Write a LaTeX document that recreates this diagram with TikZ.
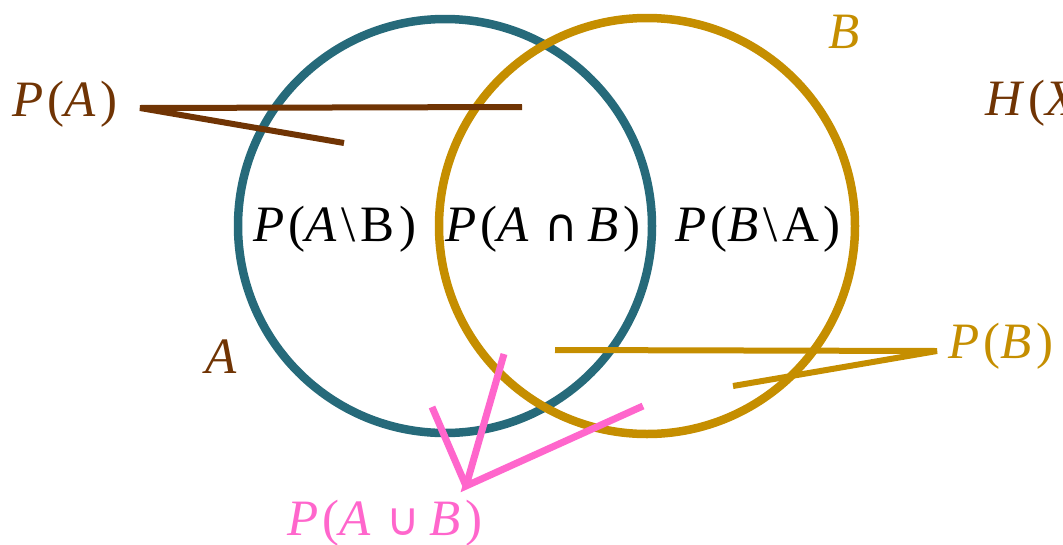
\documentclass[tikz,border=0pt]{standalone}
\usepackage{fontspec}
\setmainfont[LetterSpace=9]{Liberation Serif}
\newfontfamily\symfont{DejaVu Sans}
\definecolor{teal1}{RGB}{38,106,122}
\definecolor{gold1}{RGB}{197,142,0}
\definecolor{brown1}{RGB}{112,52,4}
\definecolor{pink1}{RGB}{255,102,204}
\begin{document}
\begin{tikzpicture}[x=1pt,y=-1pt,
  lbl/.style={anchor=base west,inner sep=0pt,font=\fontsize{51}{56}\selectfont},
  ring/.style={line width=8.5pt},
  ptr/.style={line width=6pt}]
\useasboundingbox (0,0) rectangle (1063,544);
\clip (0,0) rectangle (1063,544);
\draw[ring,teal1] (445,226) circle[radius=207];
\draw[ring,gold1] (647,226) circle[radius=208];
% labels
\node[lbl,text=brown1] (pa) at (12,116) {\textit{P}(\textit{A})};
\node[lbl] (amb) at (253,241) {\textit{P}(\textit{A}\textbackslash B)};
\node[lbl] (anb) at (445,241) {\textit{P}(\textit{A}\hspace{0.2em}{\symfont\fontsize{46}{50}\selectfont ∩}\hspace{0.2em}\textit{B})};
\node[lbl] (bma) at (675,241) {\textit{P}(\textit{B}\textbackslash A)};
\node[lbl,text=brown1] (la) at (205,373) {\textit{A}};
\node[lbl,text=gold1] (lb) at (828,48) {\textit{B}};
\node[lbl,text=brown1] (hx) at (985,115) {\textit{H}(\textit{X})};
\node[lbl,text=gold1] (pb) at (948,358) {\textit{P}(\textit{B})};
\node[lbl,text=pink1] (paub) at (287,535) {\textit{P}(\textit{A}\hspace{0.2em}{\symfont\fontsize{46}{50}\selectfont ∪}\hspace{0.2em}\textit{B})};
% pointers
\coordinate (pa0) at (140,108);
\coordinate (pa1) at (522,107);
\coordinate (pa2) at (344,143);
\draw[ptr,brown1] (pa1) -- (pa0) -- (pa2);
\coordinate (pb0) at (937,351);
\coordinate (pb1) at (555,350);
\coordinate (pb2) at (733,386);
\draw[ptr,gold1] (pb1) -- (pb0) -- (pb2);
\coordinate (pu0) at (466,486);
\coordinate (pu1) at (504,354);
\coordinate (pu2) at (432,407);
\coordinate (pu3) at (643,406);
\draw[line width=7pt,pink1] (pu1) -- (pu0) -- (pu3);
\draw[line width=7pt,pink1] (pu2) -- (pu0);
\end{tikzpicture}
\end{document}
